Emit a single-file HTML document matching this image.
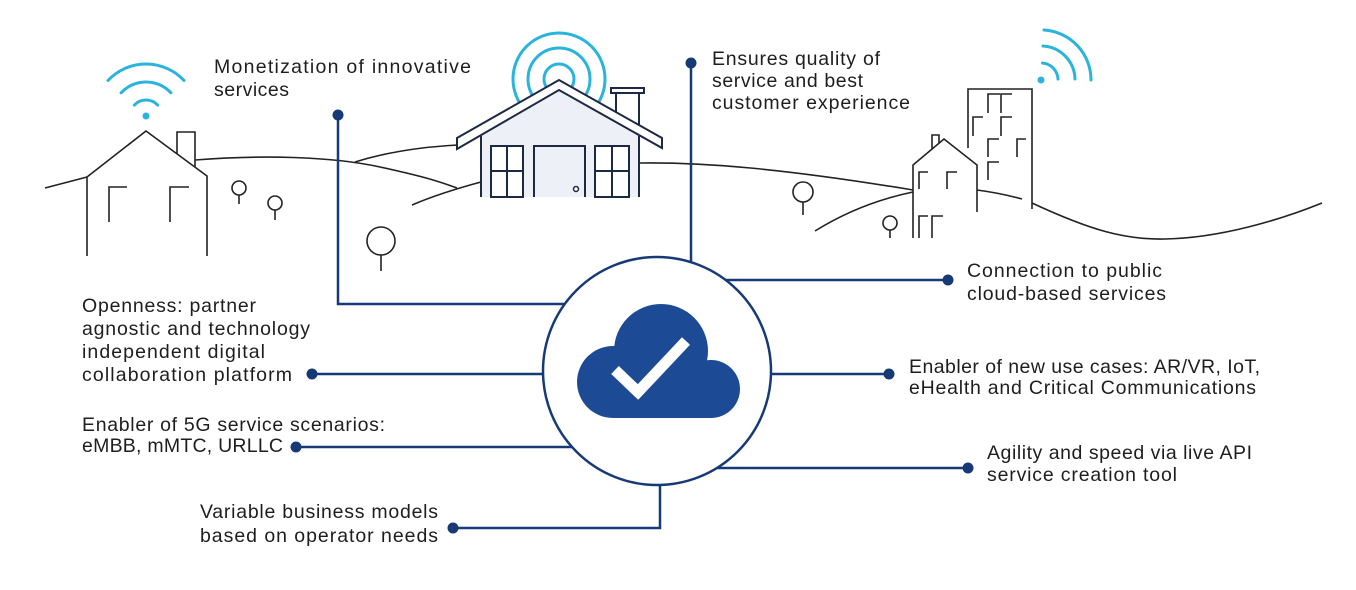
<!DOCTYPE html>
<html><head><meta charset="utf-8"><style>
html,body{margin:0;padding:0;background:#fff;}
svg{display:block;}
text{font-family:"Liberation Sans",Arial,sans-serif;font-size:19.5px;fill:#1e1e1e;}
</style></head><body>
<svg width="1356" height="590" viewBox="0 0 1356 590" xmlns="http://www.w3.org/2000/svg">
<rect width="1356" height="590" fill="#fff"/>
<!-- hills -->
<g fill="none" stroke="#222" stroke-width="1.6">
<path d="M45,188 L87,177"/>
<path d="M195,160 C260,155 330,156 380,167 S440,182 457,188"/>
<path d="M355,162 Q400,148 458,145"/>
<path d="M412,205 Q440,193 481,182"/>
<path d="M639,163 C700,162 780,168 913,190"/>
<path d="M815,231 Q860,203 913,192"/>
<path d="M977,190 Q1000,193 1022,199"/>
<path d="M1032,203 C1090,230 1125,240 1165,239 C1220,238 1280,220 1322,203"/>
</g>
<!-- left wifi -->
<g fill="none" stroke="#2ab3dc" stroke-width="3" stroke-linecap="round">
<path d="M134.3,105.1 A16,16 0 0 1 157.7,105.1"/>
<path d="M121.1,92.8 A34,34 0 0 1 170.9,92.8"/>
<path d="M108,80.5 A52,52 0 0 1 184,80.5"/>
</g>
<circle cx="146" cy="116" r="3.5" fill="#2ab3dc"/>
<!-- left house -->
<g fill="none" stroke="#222" stroke-width="1.6">
<polyline points="87,256 87,177 146,131 207,176 207,256"/>
<polyline points="177,154 177,132 195,132 195,167"/>
<polyline points="109,222 109,187 127,187"/>
<polyline points="170,222 170,187 189,187"/>
</g>
<!-- trees -->
<g fill="#fff" stroke="#222" stroke-width="1.6">
<circle cx="239" cy="188" r="7"/><line x1="239" y1="195" x2="239" y2="204"/>
<circle cx="275" cy="203" r="7"/><line x1="275" y1="210" x2="275" y2="220"/>
<circle cx="381" cy="241" r="14"/><line x1="381" y1="255" x2="381" y2="271"/>
<circle cx="803" cy="192" r="10"/><line x1="803" y1="202" x2="803" y2="215"/>
<circle cx="890" cy="223" r="7"/><line x1="890" y1="230" x2="890" y2="238"/>
</g>
<!-- center wifi -->
<g fill="none" stroke="#2ab3dc" stroke-width="3">
<circle cx="559" cy="79" r="15"/>
<circle cx="559" cy="79" r="31"/>
<circle cx="559" cy="79" r="46"/>
</g>
<!-- center house -->
<g stroke="#1d2843" stroke-width="2">
<rect x="616" y="92" width="23" height="44" fill="#fff"/>
<rect x="611" y="88" width="33" height="5" fill="#fff"/>
<polygon points="481,197 481,133 559,88 639,134 639,197" fill="#eef0f7" stroke="none"/>
<polygon points="457,138 559,80 662,138 662,148 559,90 457,149" fill="#fff" stroke-linejoin="miter"/>
<line x1="481" y1="136" x2="481" y2="197"/>
<line x1="639" y1="136" x2="639" y2="197"/>
<rect x="491" y="146" width="32" height="51" fill="#fff"/>
<line x1="507" y1="146" x2="507" y2="197"/><line x1="491" y1="171" x2="523" y2="171"/>
<rect x="595" y="146" width="34" height="51" fill="#fff"/>
<line x1="612" y1="146" x2="612" y2="197"/><line x1="595" y1="171" x2="629" y2="171"/>
<polyline points="534,197 534,146 585,146 585,197" fill="#eef0f7"/>
<circle cx="576" cy="189" r="2.5" fill="#fff" stroke-width="1.5"/>
</g>
<!-- right wifi -->
<g fill="none" stroke="#2ab3dc" stroke-width="3" stroke-linecap="round">
<path d="M1042.5,63 A17,17 0 0 1 1058,79"/>
<path d="M1043,46 A34,34 0 0 1 1075,79"/>
<path d="M1044,30 A50,50 0 0 1 1091,80"/>
</g>
<circle cx="1041" cy="80" r="3.5" fill="#2ab3dc"/>
<!-- tower & small house -->
<g fill="none" stroke="#222" stroke-width="1.6">
<polyline points="968,148 968,89 1032,89 1032,209"/>
<polyline points="988,113 988,94 1000,94"/>
<polyline points="1001,113 1001,94 1012,94"/>
<polyline points="973,136 973,117 983,117"/>
<polyline points="1001,136 1001,117 1012,117"/>
<polyline points="988,157 988,139 999,139"/>
<polyline points="1017,157 1017,139 1026,139"/>
<polyline points="988,180 988,162 999,162"/>
<polyline points="913,238 913,165 944,139 977,165 977,212"/>
<polyline points="932,149 932,135 939,135 939,143"/>
<polyline points="919,189 919,172 928,172"/>
<polyline points="947,189 947,172 957,172"/>
<polyline points="919,238 919,216 928,216"/>
<polyline points="932,238 932,216 943,216"/>
</g>
<!-- connectors -->
<g fill="none" stroke="#173a77" stroke-width="2.5">
<path d="M338,115 V304 H600"/>
<path d="M691,63 V300"/>
<path d="M700,280 H948"/>
<path d="M312,374 H600"/>
<path d="M700,374 H889"/>
<path d="M296,447 H600"/>
<path d="M700,468 H968"/>
<path d="M453,528 H660 V440"/>
</g>
<g fill="#173a77">
<circle cx="338" cy="115" r="5.5"/>
<circle cx="691" cy="63" r="5.5"/>
<circle cx="948" cy="280" r="5.5"/>
<circle cx="312" cy="374" r="5.5"/>
<circle cx="889" cy="374" r="5.5"/>
<circle cx="296" cy="447" r="5.5"/>
<circle cx="968" cy="468" r="5.5"/>
<circle cx="453" cy="528" r="5.5"/>
</g>
<!-- central circle -->
<circle cx="657" cy="371" r="114" fill="#fff" stroke="#173a77" stroke-width="2.5"/>
<g fill="#1d4a95">
<circle cx="613" cy="382" r="36"/>
<circle cx="661" cy="351" r="47"/>
<circle cx="711" cy="389" r="29"/>
<rect x="613" y="382" width="98" height="36"/>
</g>
<polyline points="615,370 638,392 686,341" fill="none" stroke="#fff" stroke-width="11"/>
<!-- texts -->
<text x="214" y="73" textLength="257" lengthAdjust="spacing">Monetization of innovative</text>
<text x="214" y="96" textLength="75" lengthAdjust="spacing">services</text>
<text x="712" y="65" textLength="168" lengthAdjust="spacing">Ensures quality of</text>
<text x="712" y="87" textLength="151" lengthAdjust="spacing">service and best</text>
<text x="712" y="109" textLength="198" lengthAdjust="spacing">customer experience</text>
<text x="967" y="277" textLength="195" lengthAdjust="spacing">Connection to public</text>
<text x="967" y="300" textLength="199" lengthAdjust="spacing">cloud-based services</text>
<text x="82" y="312" textLength="174" lengthAdjust="spacing">Openness: partner</text>
<text x="82" y="335" textLength="228" lengthAdjust="spacing">agnostic and technology</text>
<text x="82" y="358" textLength="183" lengthAdjust="spacing">independent digital</text>
<text x="82" y="381" textLength="210" lengthAdjust="spacing">collaboration platform</text>
<text x="909" y="373" textLength="351" lengthAdjust="spacing">Enabler of new use cases: AR/VR, IoT,</text>
<text x="909" y="394" textLength="347" lengthAdjust="spacing">eHealth and Critical Communications</text>
<text x="82" y="431" textLength="303" lengthAdjust="spacing">Enabler of 5G service scenarios:</text>
<text x="82" y="452" textLength="201" lengthAdjust="spacing">eMBB, mMTC, URLLC</text>
<text x="987" y="459" textLength="265" lengthAdjust="spacing">Agility and speed via live API</text>
<text x="987" y="481" textLength="190" lengthAdjust="spacing">service creation tool</text>
<text x="200" y="518" textLength="238" lengthAdjust="spacing">Variable business models</text>
<text x="200" y="542" textLength="238" lengthAdjust="spacing">based on operator needs</text>
</svg>
</body></html>
